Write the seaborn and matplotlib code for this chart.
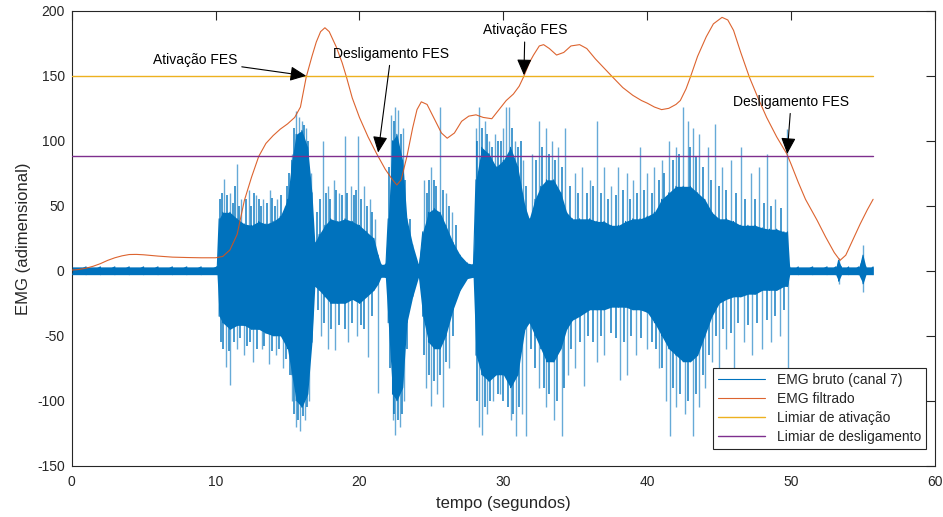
import numpy as np
import pandas as pd
import matplotlib
matplotlib.use("Agg")
import matplotlib.pyplot as plt
import seaborn as sns

# ---------------- data ----------------
# filtered EMG (seconds, value)
filt_t = [0, 0.5, 1.0, 1.5, 2.0, 2.5, 3.0, 3.5, 4.0, 4.5,
          5.0, 5.5, 6.0, 7.0, 8.0, 9.0, 10.0, 10.5, 11.0, 11.5,
          12.0, 12.5, 13.0, 13.5, 14.0, 14.5, 15.0, 15.5, 15.9, 16.3,
          16.7, 17.0, 17.3, 17.6, 17.9, 18.4, 18.8, 19.1, 19.5, 20.0,
          20.6, 21.2, 21.8, 22.3, 22.6, 22.9, 23.3, 23.7, 24.0, 24.3,
          24.7, 25.2, 25.7, 26.1, 26.6, 27.1, 27.6, 28.1, 28.6, 29.2,
          29.7, 30.2, 30.7, 31.1, 31.4, 31.8, 32.1, 32.5, 32.8, 33.2,
          33.7, 34.2, 34.7, 35.3, 35.8, 36.4, 37.0, 37.6, 38.3, 39.0,
          39.6, 40.0, 40.5, 41.0, 41.5, 42.0, 42.3, 42.7, 43.0, 43.5,
          44.1, 44.6, 45.2, 45.6, 46.0, 46.5, 47.1, 47.7, 48.3, 49.0,
          49.7, 50.0, 50.5, 51.0, 51.8, 52.4, 53.0, 53.4, 53.8, 54.3,
          54.8, 55.3, 55.7]
filt_v = [0.5, 1, 2, 3.5, 5.5, 8, 10, 11.5, 12.5, 12.6,
          12.3, 11.8, 11.3, 10.5, 10.2, 10, 10, 11, 16, 28,
          54, 72, 88, 98, 104, 109, 113, 118, 126, 149,
          165, 176, 184, 187, 184, 172, 160, 149, 133, 118,
          103, 90, 78, 70, 66, 70, 88, 110, 124, 130,
          128, 117, 106, 102, 106, 115, 119, 120, 118, 117,
          124, 131, 136, 142, 149, 160, 166, 173, 174, 171,
          166, 168, 173, 174, 171, 163, 156, 149, 141, 135,
          131, 129, 126, 124, 125, 128, 131, 140, 149, 165,
          180, 190, 195, 193, 185, 168, 149, 133, 118, 103,
          90, 82, 68, 55, 39, 26, 14, 8, 12, 24,
          36, 47, 55]

# raw EMG: dense core envelope (upper / lower)
env_t = [0, 1, 2, 3, 4, 5, 6, 7, 8, 9,
         10.1, 10.25, 10.5, 11.0, 11.5, 12.0, 12.5, 13.0, 13.5, 14.0,
         14.5, 15.0, 15.3, 15.6, 16.0, 16.4, 16.7, 16.9, 17.2, 17.6,
         18.0, 18.5, 19.0, 19.5, 20.0, 20.5, 21.0, 21.3, 21.5, 21.8,
         22.0, 22.3, 22.6, 23.0, 23.3, 23.7, 24.1, 24.4, 24.8, 25.2,
         25.6, 26.0, 26.5, 27.0, 27.5, 27.9, 28.1, 28.5, 29.0, 29.5,
         30.0, 30.5, 31.0, 31.5, 31.8, 32.2, 32.6, 33.0, 33.5, 34.0,
         34.4, 34.8, 35.3, 36.0, 36.5, 37.0, 37.5, 38.0, 38.5, 39.0,
         39.5, 40.0, 40.5, 41.0, 41.5, 42.0, 42.5, 43.0, 43.5, 44.0,
         44.5, 45.0, 45.5, 46.0, 46.5, 47.0, 47.5, 48.0, 48.5, 49.0,
         49.5, 49.75, 49.9, 50.5, 51.5, 52.5, 53.1, 53.3, 53.5, 54.0,
         54.7, 55.0, 55.2, 55.7]
env_hi = [3, 3, 3, 3, 3, 3, 3, 3, 3, 3,
          3, 40, 45, 45, 40, 36, 35, 38, 36, 38,
          42, 55, 85, 105, 108, 95, 60, 22, 28, 35,
          40, 38, 40, 38, 35, 30, 25, 12, 5, 5,
          40, 100, 105, 85, 40, 20, 5, 30, 45, 48,
          45, 35, 22, 12, 6, 5, 70, 95, 90, 80,
          85, 95, 80, 50, 40, 55, 65, 70, 70, 60,
          45, 40, 40, 40, 38, 38, 35, 35, 38, 40,
          40, 42, 45, 55, 60, 65, 65, 65, 60, 55,
          45, 40, 40, 38, 35, 35, 35, 33, 32, 32,
          30, 30, 3, 3, 3, 3, 3, 8, 3, 3,
          3, 12, 3, 3]
env_lo = [-3, -3, -3, -3, -3, -3, -3, -3, -3, -3,
          -3, -35, -40, -45, -42, -42, -45, -45, -48, -50,
          -50, -60, -80, -100, -105, -95, -55, -12, -15, -20,
          -25, -25, -25, -22, -25, -20, -15, -10, -5, -5,
          -40, -95, -100, -90, -40, -20, -5, -35, -55, -60,
          -60, -50, -30, -15, -6, -5, -65, -80, -85, -80,
          -80, -90, -80, -45, -40, -50, -60, -70, -70, -60,
          -45, -38, -35, -30, -30, -30, -28, -28, -28, -30,
          -30, -32, -40, -50, -60, -65, -70, -70, -65, -50,
          -35, -25, -22, -20, -20, -18, -18, -15, -15, -15,
          -12, -12, -3, -3, -3, -3, -3, -8, -3, -3,
          -3, -10, -3, -3]

# raw EMG: tallest isolated spike tips
spk_up_t = [10.6, 11.0, 11.5, 11.8, 12.3, 12.8, 13.3, 13.8, 14.3, 14.8,
            15.3, 15.6, 15.8, 16.0, 16.3, 16.6, 17.5, 17.8, 18.2, 18.6,
            19.0, 19.4, 19.9, 20.3, 20.7, 21.1, 22.2, 22.5, 22.7, 23.0,
            24.5, 25.0, 25.6, 26.0, 26.4, 28.1, 28.3, 28.7, 29.0, 29.4,
            30.0, 30.2, 30.4, 30.8, 31.4, 32.0, 32.5, 33.0, 33.4, 33.8,
            34.3, 35.0, 35.5, 36.0, 36.5, 37.0, 37.5, 38.0, 38.6, 39.0,
            39.5, 40.0, 40.5, 41.0, 41.5, 42.0, 42.5, 42.8, 43.2, 43.6,
            44.2, 44.7, 45.2, 45.8, 46.5, 47.2, 47.8, 48.3, 48.9, 49.7,
            53.3, 55.0]
spk_up_v = [71, 60, 82, 55, 62, 58, 55, 62, 55, 50,
            90, 123, 118, 115, 110, 75, 100, 65, 70, 60,
            104, 65, 104, 65, 55, 40, 120, 126, 124, 110,
            70, 80, 126, 60, 45, 110, 126, 115, 100, 105,
            110, 126, 126, 100, 85, 90, 115, 110, 100, 95,
            110, 75, 80, 70, 115, 80, 65, 80, 75, 70,
            95, 75, 80, 85, 100, 95, 126, 115, 110, 105,
            95, 113, 80, 85, 95, 75, 80, 90, 55, 109,
            10, 20]
spk_dn_t = [10.7, 11.0, 11.5, 12.0, 12.6, 13.2, 13.7, 14.2, 14.7, 15.3,
            15.6, 15.9, 16.2, 16.5, 17.3, 17.8, 18.3, 19.2, 19.8, 20.6,
            21.3, 22.3, 22.5, 22.8, 23.1, 24.6, 25.0, 25.4, 25.8, 26.2,
            28.3, 28.5, 28.9, 29.3, 29.8, 30.5, 30.9, 31.3, 31.6, 32.5,
            33.0, 33.5, 34.05, 34.5, 35.0, 35.6, 36.5, 37.0, 38.1, 38.6,
            39.2, 40.0, 40.8, 41.3, 41.6, 42.0, 42.6, 43.2, 43.6, 44.0,
            44.5, 45.0, 45.5, 46.0, 46.7, 47.3, 48.0, 48.6, 49.2, 49.8,
            53.3, 55.0]
spk_dn_v = [-74, -88, -60, -65, -70, -60, -72, -65, -75, -100,
            -120, -123, -115, -100, -50, -60, -61, -55, -50, -66,
            -94, -115, -126, -120, -100, -90, -104, -95, -105, -75,
            -120, -126, -110, -100, -95, -115, -127, -110, -127, -90,
            -105, -115, -127, -80, -75, -89, -70, -65, -84, -80,
            -65, -60, -75, -100, -127, -105, -110, -127, -105, -90,
            -70, -80, -60, -75, -55, -65, -60, -55, -50, -100,
            -10, -16]

# raw EMG: medium spikes fringing the dense core
mid_up_t = [10.3, 10.45, 10.8, 11.2, 11.35, 11.65, 12.1, 12.45, 12.65, 13.0,
            13.15, 13.55, 13.95, 14.15, 14.55, 14.95, 15.1, 15.45, 16.15, 16.45,
            17.05, 17.25, 17.65, 17.95, 18.4, 18.8, 19.15, 19.6, 19.75, 20.1,
            20.5, 20.9, 22.05, 22.4, 22.9, 23.2, 23.5, 24.7, 24.85, 25.15,
            25.35, 25.8, 26.2, 26.7, 28.2, 28.5, 28.85, 29.2, 29.6, 29.85,
            30.6, 31.0, 31.2, 31.6, 32.3, 32.7, 33.2, 33.6, 34.1, 34.6,
            35.2, 35.8, 36.2, 36.8, 37.3, 37.8, 38.3, 38.8, 39.3, 39.8,
            40.3, 40.8, 41.2, 41.8, 42.2, 43.0, 43.4, 43.9, 44.4, 45.0,
            45.5, 46.2, 46.8, 47.5, 48.1, 48.6, 49.3]
mid_up_v = [55, 60, 58, 52, 65, 50, 55, 50, 60, 55,
            50, 52, 56, 50, 58, 65, 75, 110, 112, 100,
            45, 55, 60, 55, 62, 58, 60, 58, 62, 55,
            50, 45, 80, 115, 105, 70, 40, 60, 70, 70,
            65, 62, 50, 35, 100, 110, 105, 95, 100, 100,
            110, 95, 100, 65, 85, 95, 90, 85, 80, 65,
            60, 60, 65, 60, 55, 58, 62, 55, 60, 62,
            60, 70, 75, 85, 90, 95, 88, 80, 70, 65,
            62, 60, 55, 55, 52, 50, 48]
mid_dn_t = [10.35, 10.55, 10.9, 11.25, 11.7, 12.2, 12.4, 12.85, 13.4, 13.9,
            14.4, 14.9, 15.15, 15.45, 15.75, 16.05, 16.35, 17.1, 17.55, 18.0,
            18.6, 19.0, 19.5, 20.1, 20.3, 20.9, 22.1, 22.4, 22.65, 22.95,
            23.3, 24.5, 24.8, 25.2, 25.6, 26.0, 26.5, 28.2, 28.7, 29.1,
            29.6, 30.0, 30.3, 30.7, 31.1, 31.9, 32.2, 32.8, 33.2, 33.7,
            34.2, 34.7, 35.3, 35.9, 36.2, 36.8, 37.5, 37.8, 38.4, 38.9,
            39.6, 40.3, 40.6, 41.0, 41.8, 42.3, 42.8, 43.4, 43.9, 44.3,
            44.8, 45.3, 45.8, 46.3, 47.0, 47.6, 48.3, 48.9, 49.5]
mid_dn_v = [-55, -60, -62, -55, -52, -58, -55, -60, -58, -62,
            -60, -68, -80, -110, -115, -112, -105, -30, -40, -45,
            -42, -45, -40, -42, -45, -35, -75, -110, -115, -110,
            -60, -65, -80, -85, -80, -70, -50, -100, -105, -100,
            -95, -100, -105, -110, -105, -60, -75, -90, -95, -100,
            -90, -60, -55, -50, -55, -50, -48, -52, -55, -50,
            -52, -55, -60, -75, -90, -95, -100, -95, -80, -65,
            -50, -45, -48, -40, -42, -40, -38, -35, -30]

limiar_ativacao = 150
limiar_desligamento = 88
t_fim = 55.7

labels = ["EMG bruto (canal 7)", "EMG filtrado",
          "Limiar de ativação", "Limiar de desligamento"]
x_ticks = [0, 10, 20, 30, 40, 50, 60]
y_ticks = [-150, -100, -50, 0, 50, 100, 150, 200]

# annotations: (text, arrow tip t, tip value, text t, text value)
ann_text = ["Ativação FES", "Desligamento FES", "Ativação FES", "Desligamento FES"]
ann_tip_t = [16.3, 21.3, 31.43, 49.73]
ann_tip_v = [150, 91, 150.5, 90]
ann_txt_t = [11.5, 22.2, 31.5, 50.0]
ann_txt_v = [162, 167, 185, 130]
ann_ha = ["right", "center", "center", "center"]

# ---------------- styling ----------------
sns.set_theme(style="white")
plt.rcParams["font.family"] = ["Liberation Sans", "DejaVu Sans"]
plt.rcParams["axes.unicode_minus"] = False

BLUE = "#0072BD"
ORANGE = "#D95319"
YELLOW = "#EDB120"
PURPLE = "#7E2F8E"
DARK = "#262626"

fig, ax = plt.subplots(figsize=(9.43, 5.17), dpi=100)
fig.subplots_adjust(left=0.076, right=0.9915, bottom=0.0992, top=0.979)

# raw EMG
ax.fill_between(env_t, env_lo, env_hi, color=BLUE, lw=0, zorder=2)
ax.vlines(mid_up_t, 0, mid_up_v, color=BLUE, lw=1.2, alpha=0.85, zorder=2)
ax.vlines(mid_dn_t, 0, mid_dn_v, color=BLUE, lw=1.2, alpha=0.85, zorder=2)
ax.vlines(spk_up_t, 0, spk_up_v, color=BLUE, lw=1.0, alpha=0.6, zorder=2)
ax.vlines(spk_dn_t, 0, spk_dn_v, color=BLUE, lw=1.0, alpha=0.6, zorder=2)
raw_t = np.column_stack([env_t, env_t]).ravel()
raw_v = np.column_stack([env_hi, env_lo]).ravel()
df_raw = pd.DataFrame({"t": raw_t, "v": raw_v})
sns.lineplot(data=df_raw, x="t", y="v", sort=False, estimator=None,
             color=BLUE, lw=0.8, label=labels[0], ax=ax, zorder=3)

# filtered EMG
df_f = pd.DataFrame({"t": filt_t, "v": filt_v})
sns.lineplot(data=df_f, x="t", y="v", sort=False, estimator=None,
             color=ORANGE, lw=0.8, alpha=0.9, label=labels[1], ax=ax, zorder=4)

# thresholds
sns.lineplot(x=[0, t_fim], y=[limiar_ativacao, limiar_ativacao],
             color=YELLOW, lw=1.0, label=labels[2], ax=ax, zorder=4)
sns.lineplot(x=[0, t_fim], y=[limiar_desligamento, limiar_desligamento],
             color=PURPLE, lw=1.0, label=labels[3], ax=ax, zorder=4)

# annotations
for txt, xt, yt, xx, yy, ha in zip(ann_text, ann_tip_t, ann_tip_v,
                                   ann_txt_t, ann_txt_v, ann_ha):
    ax.annotate(txt, xy=(xt, yt), xytext=(xx, yy), ha=ha, va="center",
                fontsize=10, color="black", zorder=6,
                arrowprops=dict(arrowstyle="-|>,head_length=0.7,head_width=0.32",
                                color="black", lw=0.8, shrinkA=1, shrinkB=0,
                                mutation_scale=14))

# axes
ax.set_xlim(0, 60)
ax.set_ylim(-150, 200)
ax.set_xticks(x_ticks)
ax.set_yticks(y_ticks)
ax.set_xlabel("tempo (segundos)", fontsize=12, color=DARK, labelpad=5)
ax.set_ylabel("EMG (adimensional)", fontsize=12, color=DARK, labelpad=4)
for s in ax.spines.values():
    s.set_visible(True)
    s.set_color(DARK)
    s.set_linewidth(0.8)
ax.tick_params(direction="in", length=6.5, width=0.8, colors=DARK,
               labelsize=10, top=True, right=True, labeltop=False,
               labelright=False, pad=5)
ax.tick_params(axis="x", pad=7)

leg = ax.legend(loc="lower right", bbox_to_anchor=(0.990, 0.036),
                borderaxespad=0, fontsize=10, frameon=True, fancybox=False,
                framealpha=1, edgecolor=DARK, handlelength=3.4,
                labelspacing=0.35, borderpad=0.4)
leg.get_frame().set_linewidth(0.8)
leg.set_zorder(10)

fig.savefig("out.png", dpi=100)
